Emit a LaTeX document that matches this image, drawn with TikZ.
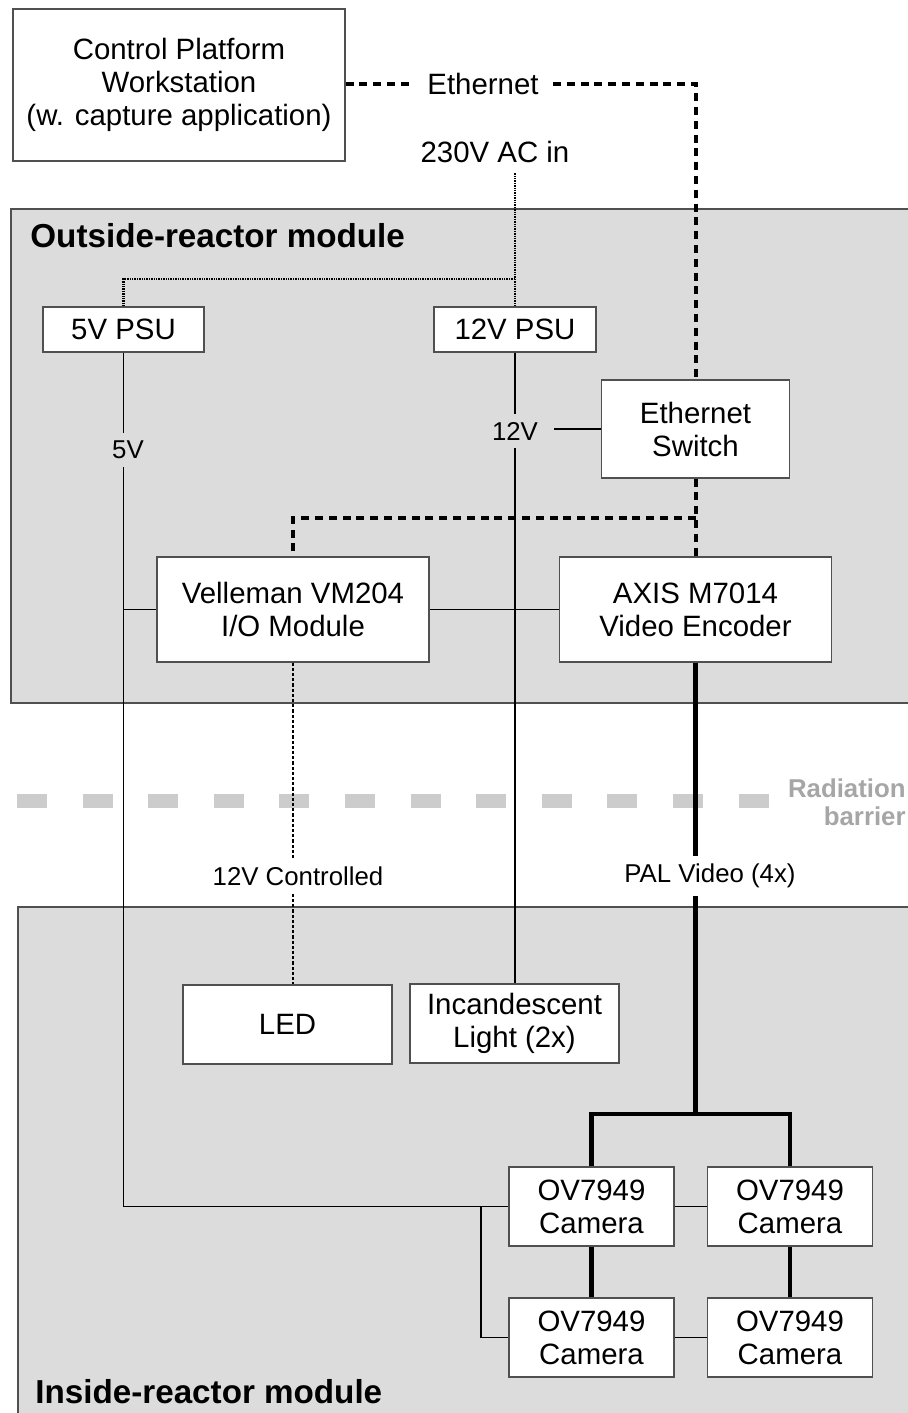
\documentclass[tikz,border=0pt]{standalone}
\usepackage{fontspec}
\setmainfont{Liberation Sans}
\usepackage{tikz}
\usetikzlibrary{positioning}

\definecolor{modulegray}{HTML}{DCDCDC}
\definecolor{edgegray}{HTML}{505050}
\definecolor{barriergray}{HTML}{CCCCCC}
\definecolor{notegray}{HTML}{A6A6A6}

\tikzset{
  unitbox/.style={draw=edgegray,fill=white,line width=0.6pt,align=center,inner sep=0pt,
    font=\fontsize{14.7}{16.5}\selectfont},
  wirelabel/.style={inner xsep=8pt,inner ysep=4pt,font=\fontsize{12.9}{15}\selectfont},
  power/.style={line width=0.6pt},
  mains/.style={line width=1.2pt,dash pattern=on 0.7pt off 0.5pt},
  switched/.style={line width=0.9pt,dash pattern=on 1.6pt off 1pt},
  lan/.style={line width=2pt,dash pattern=on 4pt off 2.9pt},
  video/.style={line width=2.2pt},
  moduletitle/.style={anchor=west,inner sep=0pt,font=\fontsize{16.6}{19}\selectfont\bfseries}
}

\begin{document}
\begin{tikzpicture}[x=0.5pt,y=-0.5pt]
\useasboundingbox (0,0) rectangle (908,1413);

% module areas
\draw[edgegray,fill=modulegray,line width=0.6pt] (11,209) rectangle (930,703);
\draw[edgegray,fill=modulegray,line width=0.6pt] (18,907) rectangle (930,1440);
\node[moduletitle] at (30,236) {Outside-reactor module};
\node[moduletitle] at (35,1392) {Inside-reactor module};

% radiation barrier
\draw[barriergray,line width=7pt,dash pattern=on 15pt off 17.8pt] (17,801) -- (770,801);
\node[anchor=east,align=right,inner sep=0pt,text=notegray,font=\fontsize{12.9}{14}\selectfont\bfseries]
  (barrier) at (906,802) {Radiation\\barrier};

% units
\node[unitbox,minimum width=166pt,minimum height=76pt] (ws) at (179,85)
  {Control Platform\\Workstation\\(w. capture application)};
\node[unitbox,minimum width=80.5pt,minimum height=22.5pt] (psufive) at (123.5,329.5) {5V PSU};
\node[unitbox,minimum width=81pt,minimum height=22.5pt] (psutwelve) at (515,329.5) {12V PSU};
\node[unitbox,minimum width=94pt,minimum height=49pt] (switch) at (695.5,429) {Ethernet\\Switch};
\node[unitbox,minimum width=136pt,minimum height=52.5pt] (vm) at (293,609.5) {Velleman VM204\\I/O Module};
\node[unitbox,minimum width=136pt,minimum height=52.5pt] (axis) at (695.5,609.5) {AXIS M7014\\Video Encoder};
\node[unitbox,minimum width=104.5pt,minimum height=39.5pt] (led) at (287.5,1024.5) {LED};
\node[unitbox,minimum width=104.5pt,minimum height=39.5pt] (lamp) at (514.5,1023.5) {Incandescent\\Light (2x)};
\node[unitbox,minimum width=82.5pt,minimum height=39.5pt] (camtl) at (591.5,1206.5) {OV7949\\Camera};
\node[unitbox,minimum width=82.5pt,minimum height=39.5pt] (camtr) at (790,1206.5) {OV7949\\Camera};
\node[unitbox,minimum width=82.5pt,minimum height=39.5pt] (cambl) at (591.5,1337.5) {OV7949\\Camera};
\node[unitbox,minimum width=82.5pt,minimum height=39.5pt] (cambr) at (790,1337.5) {OV7949\\Camera};

% wire labels
\node[inner xsep=7pt,font=\fontsize{14.7}{16.5}\selectfont] (eth) at (483,84) {Ethernet};
\node[inner ysep=5pt,font=\fontsize{14.7}{16.5}\selectfont] (acin) at (495,152) {230V AC in};
\node[wirelabel] (vfive) at (128,450) {5V};
\node[wirelabel] (vtwelve) at (515,431) {12V};
\node[wirelabel] (ctl) at (298,876) {12V Controlled};
\node[wirelabel] (pal) at (710,876) {PAL Video (4x)};

\coordinate (acj) at (515,279);
\coordinate (ethj) at (695.5,518);
\coordinate (vidj) at (695.5,1114);
\coordinate (pwrj) at (481,1206.5);

% network
\draw[lan] (ws.east |- eth.west) -- (eth.west);
\draw[lan] (eth.east) -| (switch.north);
\draw[lan] (switch.south) -- (axis.north);
\draw[lan] (ethj) -| (vm.north);

% mains
\draw[mains] (acin.south -| psutwelve.north) -- (psutwelve.north);
\draw[mains] (acj) -| (psufive.north);

% power
\draw[power] (psufive.south) -- (psufive.south |- vfive.north);
\draw[power] (psufive.south |- vfive.south) |- (camtl.west);
\draw[power] (vm.west) -- (vm.west -| psufive.south);
\draw[power] (psutwelve.south) -- (vtwelve.north);
\draw[power] (vtwelve.south) -- (vtwelve.south |- lamp.north);
\draw[power] (vtwelve.east |- switch.west) -- (switch.west);
\draw[power] (vm.east) -- (axis.west);
\draw[power] (camtl.east) -- (camtr.west);
\draw[power] (cambl.east) -- (cambr.west);
\draw[power] (pwrj) |- (cambl.west);
\draw[switched] (vm.south) -- (vm.south |- ctl.north);
\draw[switched] (vm.south |- ctl.south) -- (vm.south |- led.north);

% video
\draw[video] (axis.south) -- (axis.south |- pal.north);
\draw[video] (axis.south |- pal.south) -- (vidj);
\draw[video] (vidj) -| (camtl.north);
\draw[video] (vidj) -| (camtr.north);
\draw[video] (camtl.south) -- (cambl.north);
\draw[video] (camtr.south) -- (cambr.north);

\end{tikzpicture}
\end{document}
